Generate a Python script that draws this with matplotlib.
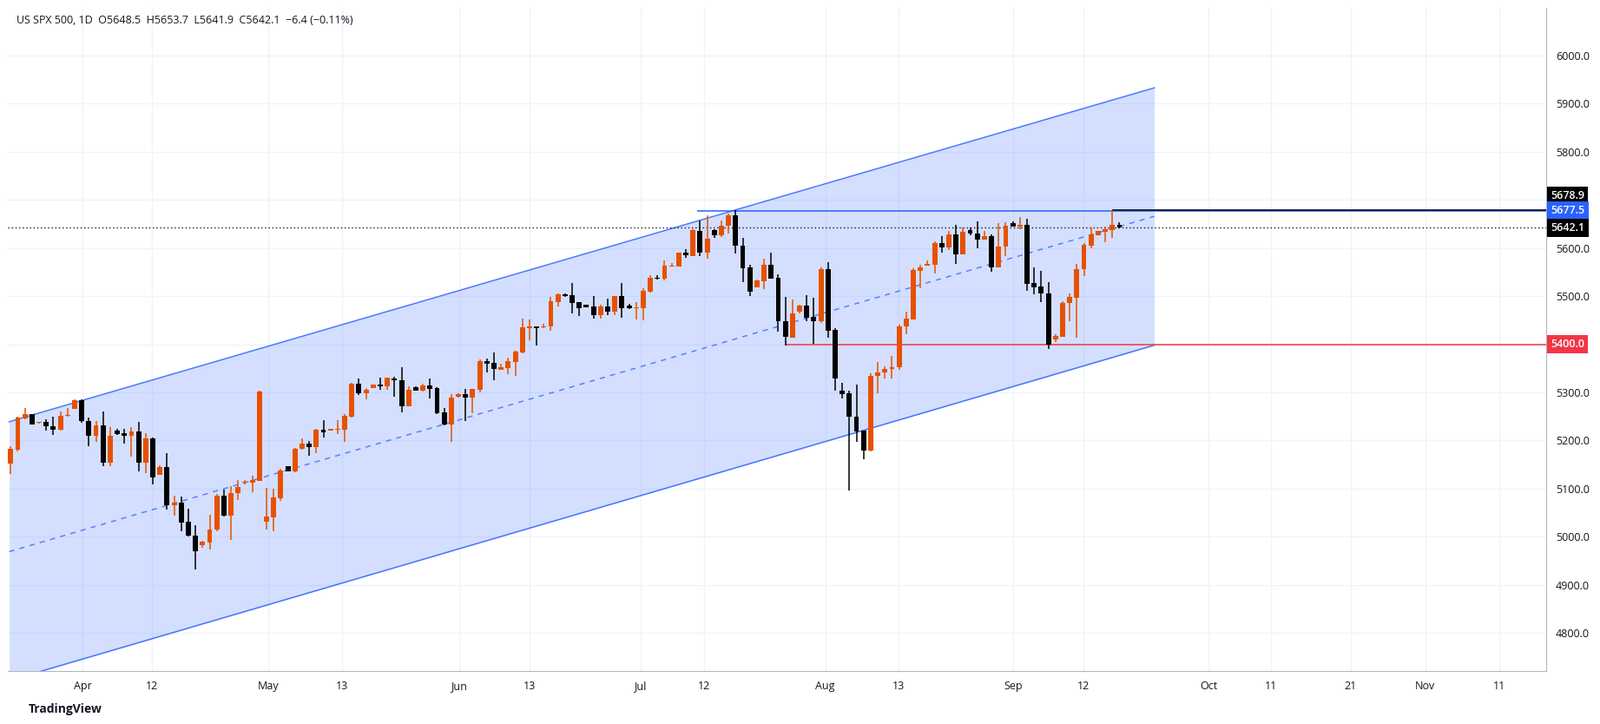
import matplotlib
matplotlib.use("Agg")
import matplotlib.pyplot as plt
import matplotlib.transforms as mtransforms
import numpy as np

# ---- data ----
opens = [5151.6,5181,5246,5254,5237,5239,5230,5222,5251,5266,5283,5241,5210,5231,5154,5221,5215,5210,5218,5154,
         5204,5129,5144,5065,5071,5031,5003,4983,4988,5014,5085,5044,5090,5113,5113,5116,5032,5041,5080,5146,
         5135,5182,5193,5186,5222,5221,5222,5222,5249,5318,5298,5309,5317,5312,5329,5326,5271,5310,5303,5315,
         5309,5258,5233,5291,5296,5290,5305,5365,5361,5347,5351,5364,5383,5434,5437,5435,5437,5488,5504,5502,
         5487,5482,5478,5461,5478,5467,5500,5480,5475,5475,5509,5539,5536,5562,5562,5590,5583,5635,5590,5637,
         5626,5646,5668,5605,5559,5518,5531,5566,5538,5448,5414,5467,5480,5457,5448,5556,5430,5304,5298,5250,
         5220,5179,5334,5342,5348,5352,5438,5452,5553,5564,5565,5610,5601,5628,5587,5637,5631,5617,5625,5560,
         5603,5651,5645,5648,5527,5520,5506,5410,5416,5485,5497,5556,5605,5627,5634,5638,5648.5]
highs = [5187.6,5249,5267,5255,5239,5244,5249,5261,5268,5285,5285,5247,5240,5261,5227,5225,5225,5228,5239,5215,
         5207,5148,5173,5085,5083,5058,5024,4992,5045,5089,5098,5105,5117,5117,5126,5303,5102,5099,5141,5146,
         5185,5204,5199,5224,5242,5224,5243,5254,5319,5328,5309,5317,5330,5330,5332,5353,5313,5312,5318,5328,
         5311,5267,5297,5298,5307,5307,5368,5370,5383,5359,5372,5386,5453,5451,5437,5442,5498,5505,5505,5527,
         5487,5482,5500,5482,5494,5500,5528,5484,5487,5516,5544,5544,5574,5568,5590,5597,5640,5658,5668,5640,
         5658,5672,5679,5622,5566,5534,5577,5591,5545,5498,5493,5482,5502,5497,5560,5570,5434,5320,5304,5317,
         5220,5339,5364,5355,5376,5441,5468,5558,5565,5574,5614,5624,5636,5648,5643,5643,5656,5635,5629,5652,
         5653,5655,5664,5661,5560,5553,5529,5420,5490,5506,5567,5610,5642,5635,5644,5679,5653.7]
lows = [5130.6,5178,5244,5233,5235,5221,5212,5220,5250,5266,5236,5188,5197,5147,5147,5212,5194,5167,5136,5132,
        5109,5128,5057,5043,5012,5001,4931,4977,4974,5012,5042,4994,5077,5109,5093,5116,5014,5012,5075,5136,
        5134,5180,5168,5174,5207,5221,5214,5197,5247,5294,5285,5309,5305,5305,5291,5258,5271,5303,5301,5287,
        5255,5231,5197,5290,5241,5257,5300,5341,5326,5347,5338,5335,5382,5408,5398,5434,5428,5479,5499,5464,
        5459,5477,5453,5453,5461,5461,5455,5474,5452,5450,5508,5534,5532,5561,5562,5580,5583,5583,5578,5622,
        5623,5630,5588,5529,5500,5518,5514,5536,5427,5398,5414,5464,5448,5401,5444,5414,5304,5287,5096,5198,
        5161,5177,5298,5329,5328,5347,5420,5452,5517,5563,5547,5591,5596,5567,5587,5626,5599,5617,5551,5560,
        5584,5645,5639,5511,5503,5487,5391,5405,5416,5448,5414,5542,5600,5626,5612,5621,5641.9]
closes = [5182.8,5247,5254,5233,5239,5230,5222,5252,5252,5283,5240,5210,5231,5154,5209,5213,5210,5218,5154,5204,
          5124,5144,5065,5071,5030,5002,4969,4990,5015,5085,5044,5090,5103,5114,5117,5301,5042,5081,5137,5136,
          5183,5193,5186,5222,5217,5224,5224,5251,5318,5298,5306,5317,5312,5330,5325,5271,5306,5303,5315,5307,
          5256,5233,5290,5296,5290,5307,5365,5359,5349,5353,5365,5385,5435,5437,5434,5438,5489,5503,5500,5486,
          5475,5477,5461,5478,5467,5500,5475,5475,5476,5511,5539,5536,5563,5563,5590,5585,5637,5590,5620,5626,
          5647,5668,5605,5558,5509,5532,5566,5536,5448,5416,5464,5480,5455,5448,5556,5428,5328,5297,5249,5218,
          5179,5334,5341,5349,5353,5437,5454,5554,5560,5567,5610,5601,5628,5587,5634,5630,5617,5625,5560,5604,
          5646,5645,5648,5526,5519,5505,5400,5417,5486,5499,5557,5607,5629,5635,5640,5648,5642.1]

tick_labels = ["Apr", "12", "May", "13", "Jun", "13", "Jul", "12", "Aug", "13",
               "Sep", "12", "Oct", "11", "21", "Nov", "11"]
tick_bars = [10.1, 19.9, 36.2, 46.6, 63.1, 73.0, 88.6, 97.5, 114.6, 124.9,
             141.1, 150.9, 168.5, 177.3, 188.5, 199.0, 209.5]

price_ticks = list(range(4800, 6100, 100))
hidden_price_labels = [5400, 5700]   # covered by the coloured price boxes

# channel anchors (bar index, price)
chan_x = [-0.2, 160.9]
upper_p = [5239, 5933]
mid_p = [4969, 5666]
lower_p = [4701, 5398]

resistance = 5677.5
resistance_start = 96.6
support = 5400.0
support_start = 109
high_line = 5678.9
high_start = 155
last_close = 5642.1

UP = "#e65100"
DOWN = "#000000"
BLUE = "#2962ff"

fig = plt.figure(figsize=(18.43, 8.34), dpi=100)
fig.patch.set_facecolor("white")
ax = fig.add_axes([0.0051, 0.0733, 0.9611, 0.9157])
ax.set_facecolor("white")

n = len(opens)
x = np.arange(n)
o = np.array(opens); h = np.array(highs); l = np.array(lows); c = np.array(closes)
cols = [UP if cc >= oo else DOWN for oo, cc in zip(o, c)]

ax.set_xlim(-0.35, 216)
ax.set_ylim(4721, 6099)

# grid
for t in tick_bars:
    ax.axvline(t, color="#f0f3fa", lw=1, zorder=0)
for p in price_ticks:
    ax.axhline(p, color="#f0f3fa", lw=1, zorder=0)

# channel fill
ax.fill_between(chan_x, lower_p, upper_p, color=BLUE, alpha=0.2, lw=0, zorder=1)
ax.plot(chan_x, upper_p, color=BLUE, lw=1.1, alpha=0.85, zorder=2)
ax.plot(chan_x, lower_p, color=BLUE, lw=1.1, alpha=0.85, zorder=2)
ax.plot(chan_x, mid_p, color=BLUE, lw=1.1, alpha=0.75, ls=(0, (4, 4)), zorder=2)

# horizontal levels
ax.hlines(resistance, resistance_start, 216, color=BLUE, lw=1.1, zorder=3)
ax.hlines(support, support_start, 216, color="#f23645", lw=1.1, zorder=3)
ax.hlines(high_line, high_start, 216, color="#131722", lw=1.3, zorder=3)
ax.axhline(last_close, color="#131722", lw=1, ls=(0, (1, 2)), zorder=3)

# candles
ax.vlines(x, l, h, colors=cols, lw=1.1, zorder=4)
body_low = np.minimum(o, c)
body_h = np.maximum(np.abs(c - o), 1.2)
ax.bar(x, body_h, bottom=body_low, width=0.72, color=cols, lw=0, zorder=5)

# axes styling
for s in ["top", "left"]:
    ax.spines[s].set_visible(False)
ax.spines["right"].set_color("#b2b5be")
ax.spines["bottom"].set_color("#b2b5be")
ax.yaxis.tick_right()
ax.set_yticks(price_ticks)
ax.set_yticklabels(["" if v in hidden_price_labels else f"{v:.1f}" for v in price_ticks])
ax.set_xticks(tick_bars)
ax.set_xticklabels(tick_labels)
ax.tick_params(axis="both", length=0, labelsize=9, colors="#131722", pad=8)
for lab in ax.get_yticklabels() + ax.get_xticklabels():
    lab.set_fontfamily("Open Sans")

# price labels on the right axis
trans = mtransforms.blended_transform_factory(ax.transAxes, ax.transData)
for val, ypos, bg in [(high_line, 5708, "#000000"), (resistance, 5677.5, BLUE),
                      (last_close, 5642.1, "#000000"), (support, 5400.0, "#f23645")]:
    ax.text(1.003, ypos, f"{val:.1f}", transform=trans, ha="left", va="center",
            fontsize=9, color="white", fontweight="semibold", family="Open Sans",
            bbox=dict(boxstyle="square,pad=0.35", fc=bg, ec="none"), zorder=10, clip_on=False)

fig.text(0.0105, 0.972, "US SPX 500, 1D  O5648.5  H5653.7  L5641.9  C5642.1  \u22126.4 (\u22120.11%)",
         fontsize=9, color="#131722", family="Open Sans", va="center")
fig.text(0.018, 0.02, "TradingView", fontsize=10, color="#131722", family="Open Sans",
         fontweight="bold", va="center")

fig.savefig("out.png", dpi=100)
